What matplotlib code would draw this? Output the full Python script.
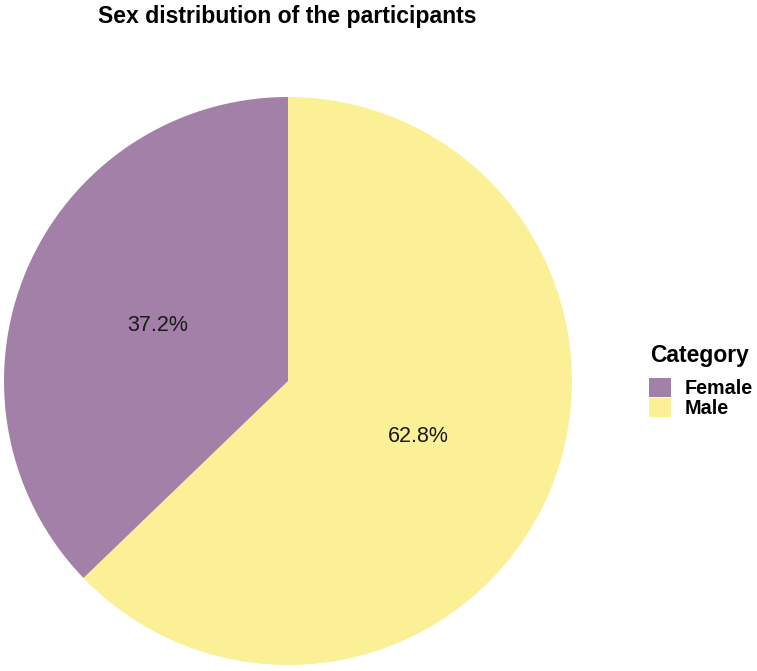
import numpy as np
import matplotlib
matplotlib.use("Agg")
import matplotlib.pyplot as plt
from matplotlib.patches import Patch

plt.rcParams['font.family'] = ['Liberation Sans', 'DejaVu Sans']

categories = ["Female", "Male"]
shares = [37.2, 62.8]
colors = {"Female": "#a380a8", "Male": "#fcf096"}

W, H = 757, 671
fig = plt.figure(figsize=(W / 100, H / 100), dpi=100)

# pie drawn clockwise from 12 o'clock, Male first
order = ["Male", "Female"]
vals = [shares[categories.index(c)] for c in order]
cx, cy, r = 288, 381, 284
ax = fig.add_axes([(cx - r) / W, (H - cy - r) / H, 2 * r / W, 2 * r / H])
wedges, _, autotexts = ax.pie(vals, colors=[colors[c] for c in order],
                              startangle=90, counterclock=False,
                              autopct='%1.1f%%', pctdistance=0.5,
                              textprops={'fontsize': 15.5, 'color': '#1a1a1a'},
                              wedgeprops={'linewidth': 0})
ax.set_xlim(-1, 1)
ax.set_ylim(-1, 1)
ax.set_aspect('equal')
ax.axis('off')

fig.text(287.5 / W, 1 - 16 / H, "Sex distribution of the participants",
         ha='center', va='center', fontsize=16.6, fontweight='bold')

# legend title drawn separately so the gap can be matched
fig.text(650 / W, 1 - 362 / H, "Category", ha='left', va='baseline',
         fontsize=16.5, fontweight='bold')
handles = [Patch(facecolor=colors[c], edgecolor='none') for c in categories]
leg = fig.legend(handles, categories, loc='upper left',
                 bbox_to_anchor=(635 / W, 1 - 364 / H), frameon=False,
                 fontsize=14.2, handlelength=1.1, handleheight=1.1,
                 handletextpad=0.7, labelspacing=0.0, borderpad=0.2)
for t in leg.get_texts():
    t.set_fontweight('bold')

fig.savefig("out.png", dpi=100)
